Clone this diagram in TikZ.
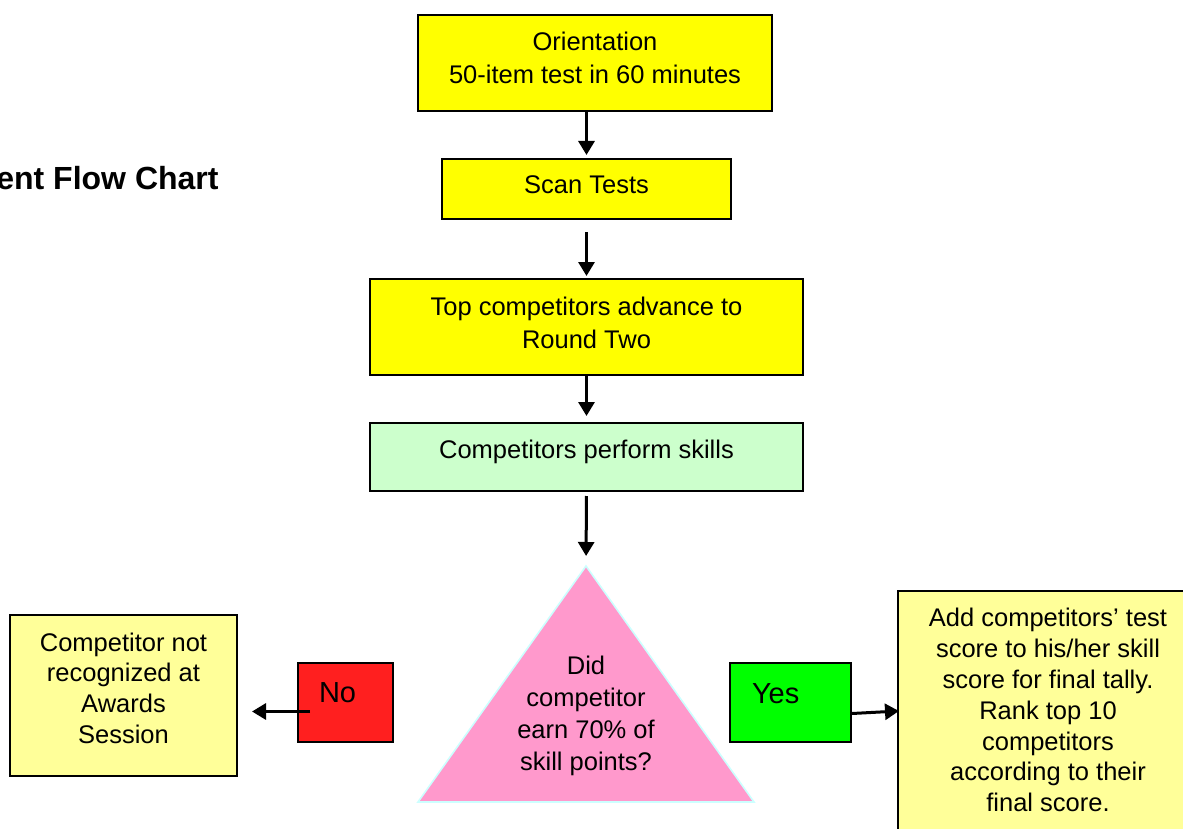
\documentclass[tikz,border=0pt]{standalone}
\usepackage{fontspec}
\setmainfont{Liberation Sans}
\usetikzlibrary{arrows.meta}
\definecolor{stepyellow}{HTML}{FFFF00}
\definecolor{paleyellow}{HTML}{FFFF99}
\definecolor{palegreen}{HTML}{CCFFCC}
\definecolor{noRed}{HTML}{FF1F1F}
\definecolor{yesGreen}{HTML}{00FF00}
\definecolor{askPink}{HTML}{FF99CC}
\definecolor{askEdge}{HTML}{CCFFFF}
\tikzset{
    box/.style={draw=black, line width=1pt, align=center, inner sep=0pt,
                font=\fontsize{12.75}{16.5}\selectfont},
    tag/.style={draw=black, line width=1pt, align=left, inner ysep=0pt,
                font=\fontsize{14.5}{17}\selectfont},
    arr/.style={line width=1.5pt, -{Triangle[width=8pt,length=7pt]}},
}
% extra depth under the last line, pushes the text up in its box
\newcommand{\dn}[1]{\rule[-#1pt]{0pt}{0pt}}
\newcommand{\asksetup}{
    \coordinate (t0) at (586,566);
    \coordinate (t1) at (418,802);
    \coordinate (t2) at (754,802);
}
\begin{document}
\begin{tikzpicture}[x=0.5pt,y=-0.5pt]
          \useasboundingbox (0,0) rectangle (1183,829);
          \asksetup;

          \node[font=\bfseries\fontsize{16}{18}\selectfont, anchor=base east, inner sep=0pt] (title) at (219,190) {Event Flow Chart};

          \node[box, fill=stepyellow, minimum width=177pt, minimum height=48pt] (orient) at (595,63)
               {Orientation\\50-item test in 60 minutes\dn{5.5}};
          \node[box, fill=stepyellow, minimum width=144.5pt, minimum height=30pt] (scan) at (586.5,189)
               {Scan Tests\dn{4.5}};
          \node[box, fill=stepyellow, minimum width=216.5pt, minimum height=48pt] (top) at (586.5,327)
               {Top competitors advance to\\Round Two\dn{4.5}};
          \node[box, fill=palegreen, minimum width=216.5pt, minimum height=34pt] (perform) at (586.5,457)
               {Competitors perform skills\dn{8}};

          % decision triangle
          \fill[askPink, draw=askEdge, line width=0.8pt] (t0) -- (t1) -- (t2) -- cycle;
          \node[align=center, font=\fontsize{12.75}{16}\selectfont] (ask) at (586,716)
               {Did\\competitor\\earn 70\% of\\skill points?};

          \node[tag, fill=noRed, minimum width=47.5pt, minimum height=39.5pt,
                inner xsep=10.5pt, text width=26.5pt] (no) at (345.5,702.5) {No\dn{9.5}};
          \node[tag, fill=yesGreen, minimum width=60.5pt, minimum height=39.5pt,
                inner xsep=11pt, text width=38.5pt] (yes) at (790.5,702.5) {Yes\dn{9}};

          \node[box, fill=paleyellow, font=\fontsize{12.75}{15.4}\selectfont,
                minimum width=113.5pt, minimum height=80.5pt] (miss) at (123.5,695.5)
               {Competitor not\\recognized at\\Awards\\Session\dn{7.5}};
          \node[box, fill=paleyellow, font=\fontsize{12.75}{15.4}\selectfont,
                minimum width=150pt, minimum height=130pt] (add) at (1048,721)
               {Add competitors’ test\\score to his/her skill\\score for final tally.\\Rank top 10\\competitors\\according to their\\final score.\dn{11}};

          \draw[arr, shorten >=1.5pt] (orient.south -| scan.north) -- (scan.north);
          \draw[arr, shorten <=6pt, shorten >=1pt] (scan.south) -- (top.north);
          \draw[arr, shorten >=3pt] (top.south) -- (perform.north);
          \draw[arr, shorten <=2pt, shorten >=5pt] (perform.south) -- (t0);

          \draw[arr] ([shift={(13,9)}]no.west) -- ([shift={(14,16)}]miss.east);
          \draw[arr] ([shift={(0,11)}]yes.east) -- ([shift={(2,-10)}]add.west);
        \end{tikzpicture}
\end{document}
